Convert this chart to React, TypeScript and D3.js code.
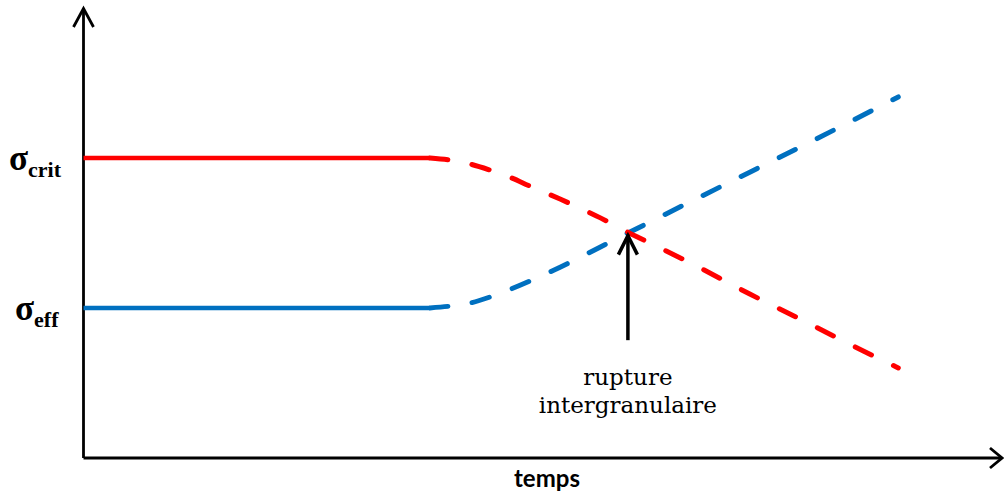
import React from "react";
import * as d3 from "d3";

// time (arbitrary units 0..100) and stress (arbitrary units 0..100)
const solidTimes = [0, 37.8];
const critSolid = [66.96, 66.96];
const effSolid = [33.5, 33.5];

const dashTimes = [37.8, 40.0, 42.2, 44.3, 46.5, 48.7, 52.0, 56.4, 59.4, 62.9, 67.3, 72.7, 78.2, 83.6, 88.9];
const critDash = [66.96, 66.5, 65.6, 64.3, 62.7, 60.7, 57.8, 53.6, 50.4, 46.9, 42.4, 36.6, 31.0, 25.4, 20.1];
const effDash = [33.5, 33.9, 34.6, 35.9, 37.6, 39.5, 42.6, 47.1, 50.2, 53.8, 58.3, 63.8, 69.4, 75.0, 80.6];

const ruptureTime = 59.4;
const ruptureStress = 50.2;
const ruptureArrowBottom = 26.3;
const ruptureLabel = ["rupture", "intergranulaire"];
const xLabel = "temps";

const W = 1004;
const H = 495;

export default function App() {
  const x = d3.scaleLinear().domain([0, 100]).range([83.5, 1000]);
  const y = d3.scaleLinear().domain([0, 100]).range([458, 10]);
  const line = d3
    .line<[number, number]>()
    .x((d) => x(d[0]))
    .y((d) => y(d[1]))
    .curve(d3.curveMonotoneX);

  const z = (t: number[], v: number[]) => t.map((ti, i) => [ti, v[i]] as [number, number]);

  const red = "#ff0000";
  const blue = "#0070c0";

  const x0 = x(0);
  const y0 = y(0);
  const rx = x(ruptureTime);
  const ry = y(ruptureStress) + 1.5;

  return (
    <svg
      width={W}
      height={H}
      style={{ position: "absolute", left: 0, top: 0, background: "#fff" }}
    >
      {/* axes */}
      <line x1={x0} y1={y0} x2={x0} y2={8} stroke="#000" strokeWidth={2.8} />
      <polyline
        points={`${x0 - 10},${27} ${x0},${8.5} ${x0 + 10},${27}`}
        fill="none"
        stroke="#000"
        strokeWidth={2.8}
      />
      <line x1={x0} y1={y0} x2={1002} y2={y0} stroke="#000" strokeWidth={3} />
      <polyline
        points={`${990},${y0 - 10} ${1002},${y0} ${990},${y0 + 10}`}
        fill="none"
        stroke="#000"
        strokeWidth={2.8}
      />

      {/* solid parts */}
      <path d={line(z(solidTimes, critSolid)) || ""} fill="none" stroke={red} strokeWidth={4.5} />
      <path d={line(z(solidTimes, effSolid)) || ""} fill="none" stroke={blue} strokeWidth={4.5} />

      {/* dashed parts */}
      <path
        d={line(z(dashTimes, effDash)) || ""}
        fill="none"
        stroke={blue}
        strokeWidth={5}
        strokeLinecap="round"
        strokeDasharray="18 24.5"
      />
      <path
        d={line(z(dashTimes, critDash)) || ""}
        fill="none"
        stroke={red}
        strokeWidth={5}
        strokeLinecap="round"
        strokeDasharray="18 24.5"
      />

      {/* rupture arrow */}
      <line x1={rx} y1={y(ruptureArrowBottom)} x2={rx} y2={ry} stroke="#000" strokeWidth={3.5} />
      <polyline
        points={`${rx - 9.5},${ry + 20} ${rx},${ry + 1} ${rx + 9.5},${ry + 20}`}
        fill="none"
        stroke="#000"
        strokeWidth={3.5}
      />
      <text
        x={rx}
        y={385}
        textAnchor="middle"
        fontFamily="'DejaVu Serif', serif"
        fontSize={23}
        fill="#000"
      >
        {ruptureLabel[0]}
      </text>
      <text
        x={rx}
        y={413}
        textAnchor="middle"
        fontFamily="'DejaVu Serif', serif"
        fontSize={23}
        fill="#000"
      >
        {ruptureLabel[1]}
      </text>

      {/* y labels */}
      <text x={9} y={170} fontFamily="'Liberation Serif', serif" fontWeight="bold" fontSize={35} fill="#000">
        σ
        <tspan fontSize={22} dy={7}>crit</tspan>
      </text>
      <text x={15} y={320} fontFamily="'Liberation Serif', serif" fontWeight="bold" fontSize={35} fill="#000">
        σ
        <tspan fontSize={22} dy={7}>eff</tspan>
      </text>

      {/* x label */}
      <text
        x={547}
        y={487}
        textAnchor="middle"
        fontFamily="Lato, sans-serif"
        fontWeight="bold"
        fontSize={24}
        fill="#000"
      >
        {xLabel}
      </text>
    </svg>
  );
}
